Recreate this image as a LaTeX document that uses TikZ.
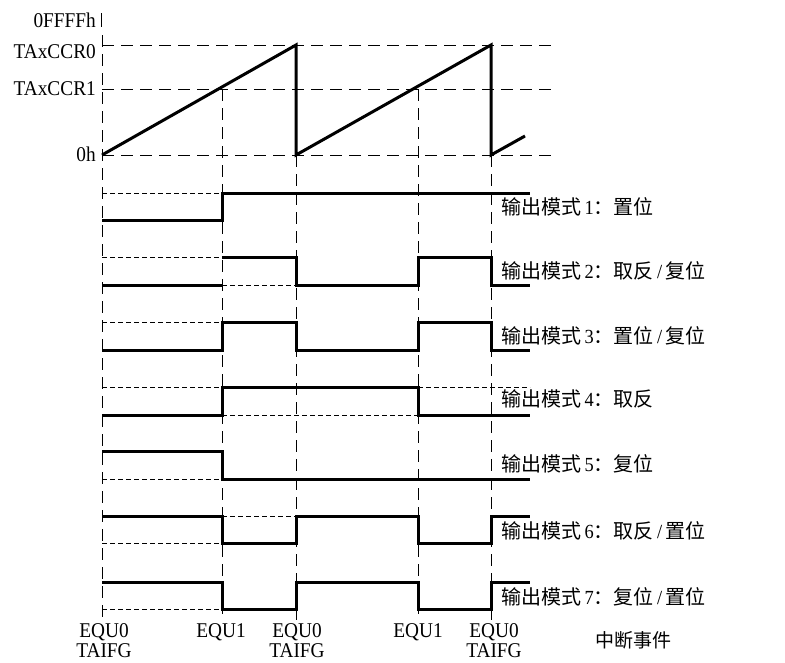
\documentclass[tikz,border=0pt]{standalone}
\usepackage{fontspec}
\setmainfont{Liberation Serif}
\newfontfamily\latf{Liberation Serif}[FakeStretch=0.92]
\newfontfamily\cjkf{Noto Sans CJK SC}
\newcommand\modelbl[2]{{\cjkf 输出模式}\,{\latf #1}{\cjkf ：}{\cjkf #2}}
\newcommand\slsh{\,{\latf /}\,}
\begin{document}
\begin{tikzpicture}[x=1pt,y=-1pt,
  sig/.style={line width=3pt, line join=miter, line cap=butt},
  guide/.style={line width=1pt, dash pattern=on 12pt off 7pt},
  ghost/.style={line width=1pt, dash pattern=on 5pt off 3pt},
  axlbl/.style={inner sep=0pt, anchor=east, font=\fontsize{21}{25}\selectfont\latf},
  evlbl/.style={inner sep=0pt, font=\fontsize{21}{25}\selectfont\latf},
  mlbl/.style={inner sep=0pt, anchor=west, font=\fontsize{20}{24}\selectfont}]
\useasboundingbox (0,0) rectangle (785,662);
% axis
\draw[line width=1pt] (101,13) -- (101,27);
\draw[guide] (102,35) -- (102,620);
\draw[guide] (222,89) -- (222,620);
\draw[guide] (296,155) -- (296,620);
\draw[guide] (418,89) -- (418,620);
\draw[guide] (491,155) -- (491,620);
\draw[guide] (102,45) -- (557,45);
\draw[guide] (102,89) -- (557,89);
\draw[guide] (102,155) -- (557,155);
% sawtooth
\draw[sig] (102,155) -- (296,45) -- (296,155) -- (491,45) -- (491,155) -- (525,136);
% axis labels
\node[axlbl] (lffff) at (96,20) {0FFFFh};
\node[axlbl] (lccr0) at (96,52) {TAxCCR0};
\node[axlbl] (lccr1) at (96,89) {TAxCCR1};
\node[axlbl] (lzero) at (96,154) {0h};
% row 1
\draw[ghost] (102,193) -- (222,193);
\draw[sig] (102,220) -- (222,220) -- (222,193) -- (530,193);
% row 2
\draw[ghost] (102,257) -- (222,257);
\draw[ghost] (222,285) -- (296,285);
\draw[sig] (102,285) -- (222,285);
\draw[sig] (222,257) -- (296,257) -- (296,285) -- (418,285) -- (418,257) -- (491,257) -- (491,285) -- (530,285);
% row 3
\draw[ghost] (102,322) -- (222,322);
\draw[sig] (102,350) -- (222,350) -- (222,322) -- (296,322) -- (296,350) -- (418,350) -- (418,322) -- (491,322) -- (491,350) -- (530,350);
% row 4
\draw[ghost] (102,387) -- (222,387);
\draw[ghost] (222,415) -- (418,415);
\draw[ghost] (418,387) -- (530,387);
\draw[sig] (102,415) -- (222,415) -- (222,387) -- (418,387) -- (418,415) -- (530,415);
% row 5
\draw[ghost] (102,479) -- (222,479);
\draw[sig] (102,451) -- (222,451) -- (222,479) -- (530,479);
% row 6
\draw[ghost] (102,543) -- (222,543);
\draw[ghost] (222,516) -- (296,516);
\draw[sig] (102,516) -- (222,516) -- (222,543) -- (296,543) -- (296,516) -- (418,516) -- (418,543) -- (491,543) -- (491,516) -- (530,516);
% row 7
\draw[ghost] (102,609) -- (222,609);
\draw[sig] (102,582) -- (222,582) -- (222,609) -- (296,609) -- (296,582) -- (418,582) -- (418,609) -- (491,609) -- (491,582) -- (530,582);
% mode labels
\node[mlbl] (m1) at (501,207) {\modelbl{1}{置位}};
\node[mlbl] (m2) at (501,271) {\modelbl{2}{取反}\slsh{\cjkf 复位}};
\node[mlbl] (m3) at (501,336) {\modelbl{3}{置位}\slsh{\cjkf 复位}};
\node[mlbl] (m4) at (501,399) {\modelbl{4}{取反}};
\node[mlbl] (m5) at (501,464) {\modelbl{5}{复位}};
\node[mlbl] (m6) at (501,531) {\modelbl{6}{取反}\slsh{\cjkf 置位}};
\node[mlbl] (m7) at (501,597) {\modelbl{7}{复位}\slsh{\cjkf 置位}};
% event labels
\node[evlbl] (e1) at (104,632) {EQU0};
\node[evlbl] (t1) at (104,651) {TAIFG};
\node[evlbl] (e2) at (221,632) {EQU1};
\node[evlbl] (e3) at (297,632) {EQU0};
\node[evlbl] (t3) at (297,651) {TAIFG};
\node[evlbl] (e4) at (418,632) {EQU1};
\node[evlbl] (e5) at (494,632) {EQU0};
\node[evlbl] (t5) at (494,651) {TAIFG};
\node[inner sep=0pt, anchor=west, font=\fontsize{19}{23}\selectfont\cjkf] (ev) at (595,640) {中断事件};
\end{tikzpicture}
\end{document}
